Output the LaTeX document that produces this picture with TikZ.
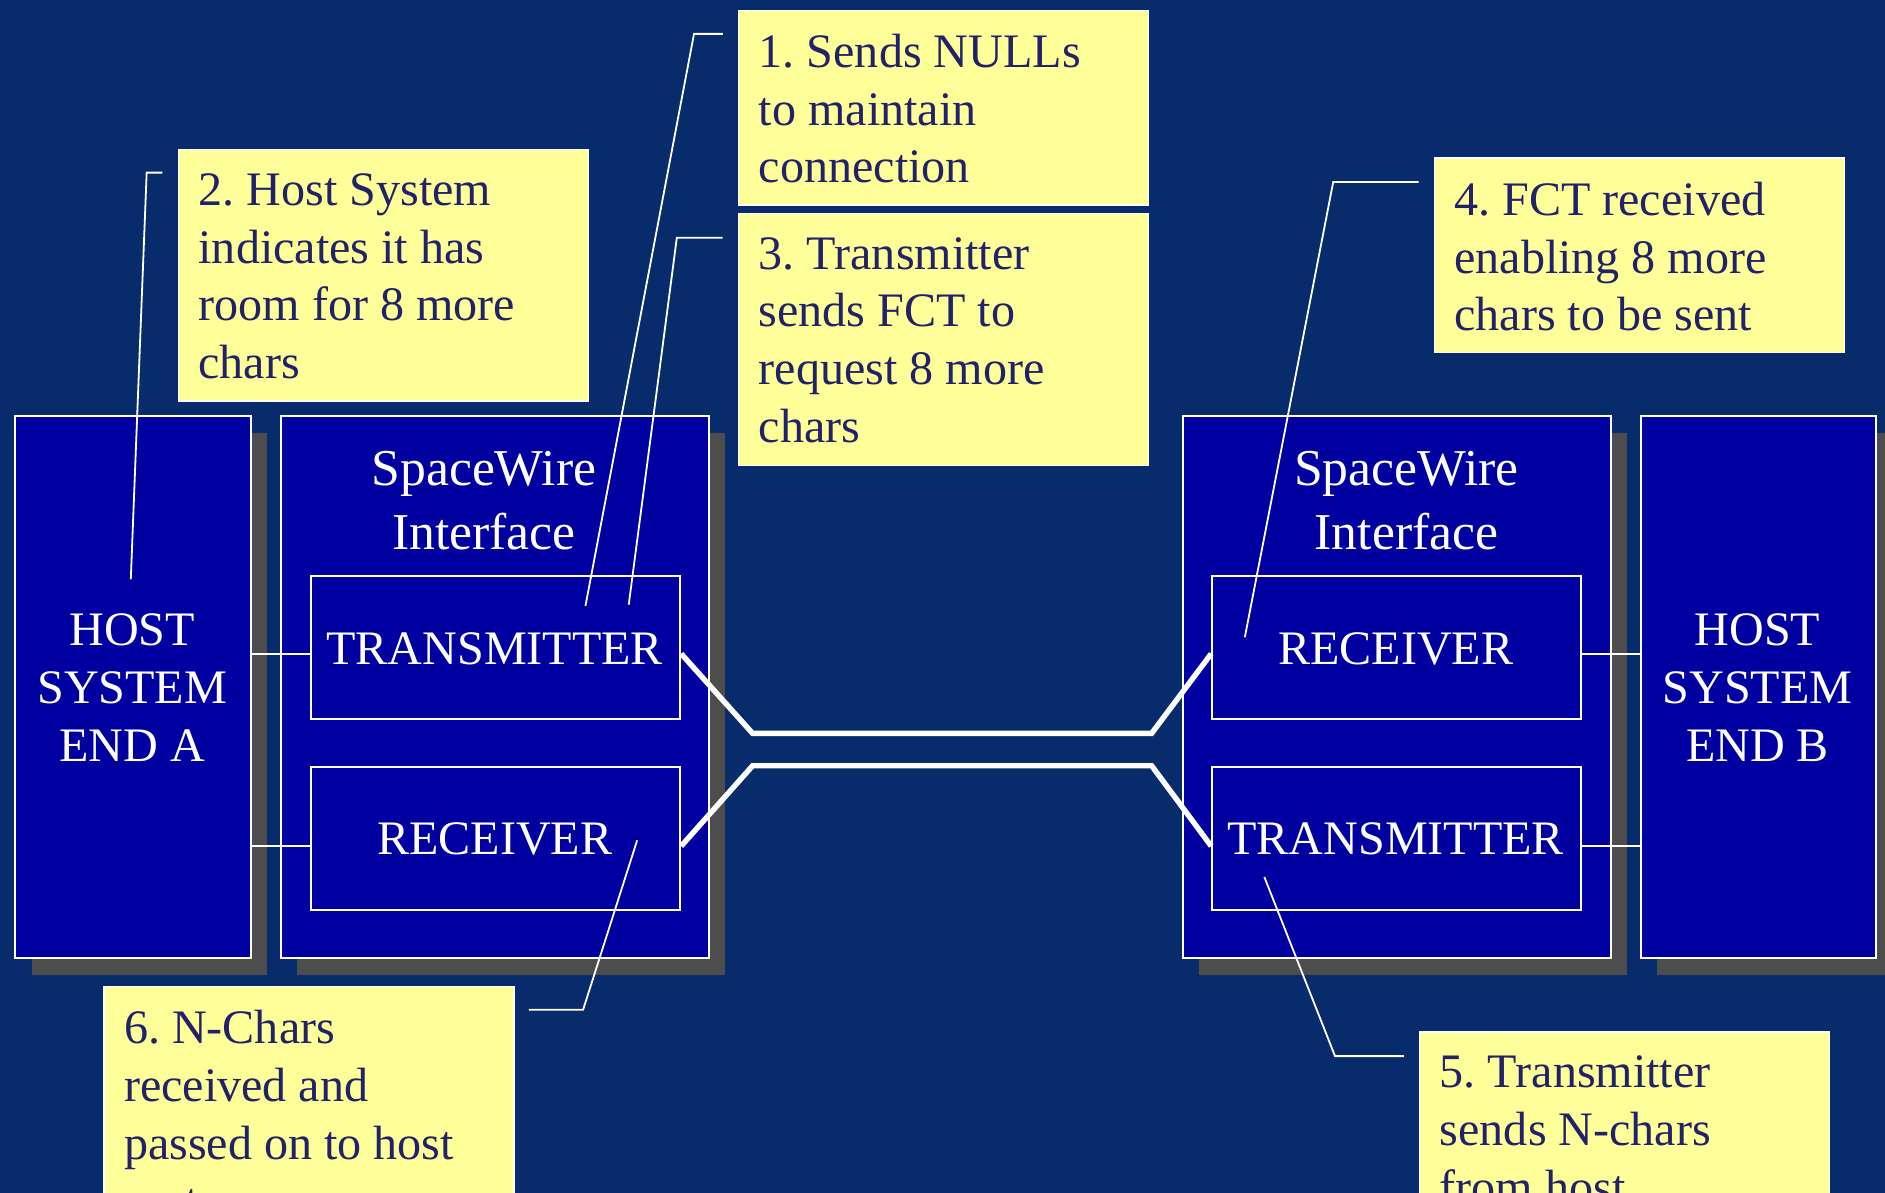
\documentclass[tikz,border=0pt]{standalone}
\usepackage{fontspec}
\setmainfont{Liberation Serif}
\frenchspacing
\usetikzlibrary{shadows}
\definecolor{bgc}{HTML}{082B6B}
\definecolor{boxc}{HTML}{0000A0}
\definecolor{shc}{HTML}{4D4D4D}
\definecolor{yelc}{HTML}{FFFF99}
\definecolor{ytxt}{HTML}{22226A}
\tikzset{
 bluebox/.style={draw=white, line width=1.6pt, fill=boxc, anchor=north west, inner sep=0pt,
   general shadow={fill=shc, shadow xshift=13.5pt, shadow yshift=-14pt}},
 innerbox/.style={draw=white, line width=1.6pt, fill=boxc, anchor=north west, inner sep=0pt,
   minimum width=307pt, minimum height=119pt},
 note/.style={draw=white, line width=1pt, fill=yelc, anchor=north west, inner sep=0pt, minimum width=341pt},
 notetext/.style={anchor=north west, inner sep=0pt, align=left, text=ytxt, font=\fontsize{40}{48}\selectfont\frenchspacing},
 wtext/.style={inner sep=0pt, align=center, text=white, font=\fontsize{40}{48}\selectfont},
 swtext/.style={inner sep=0pt, align=center, text=white, font=\fontsize{43}{53}\selectfont},
 wire/.style={white, line width=4.5pt, line join=miter},
 thinw/.style={white, line width=1.6pt},
 callout/.style={white, line width=1.5pt},
}
\begin{document}
\begin{tikzpicture}[x=1pt,y=-1pt]
\useasboundingbox (0,0) rectangle (1568,992);
\clip (0,0) rectangle (1568,992);
\fill[bgc] (0,0) rectangle (1568,992);

% main blocks
\node[bluebox, minimum width=196pt, minimum height=451pt] (hostA) at (12,345) {};
\node[bluebox, minimum width=356pt, minimum height=451pt] (ifA) at (233,345) {};
\node[bluebox, minimum width=356pt, minimum height=451pt] (ifB) at (983,345) {};
\node[bluebox, minimum width=196pt, minimum height=451pt] (hostB) at (1364,345) {};

\node[innerbox] (txA) at (258,478) {};
\node[innerbox] (rxA) at (258,637) {};
\node[innerbox] (rxB) at (1007.5,478) {};
\node[innerbox] (txB) at (1007.5,637) {};

% labels
\node[wtext, anchor=north] (lhA) at (110,510.5) {HOST\\SYSTEM\\END A};
\node[wtext, anchor=north] (lhB) at (1462,510.5) {HOST\\SYSTEM\\END B};
\node[swtext, anchor=north] (lifA) at (402.5,375.5) {SpaceWire\\Interface};
\node[swtext, anchor=north] (lifB) at (1170,375.5) {SpaceWire\\Interface};
\node[wtext, anchor=base] (ltxA) at (411.5,553) {TRANSMITTER};
\node[wtext, anchor=base] (lrxA) at (411.5,711) {RECEIVER};
\node[wtext, anchor=base] (lrxB) at (1161,553) {RECEIVER};
\node[wtext, anchor=base] (ltxB) at (1161,711) {TRANSMITTER};

% host connectors
\coordinate (cA1) at ([yshift=-5.5pt]txA.west);
\coordinate (cA2) at ([yshift=-6.5pt]rxA.west);
\coordinate (cB1) at ([yshift=-5.5pt]rxB.east);
\coordinate (cB2) at ([yshift=-6.5pt]txB.east);
\draw[thinw] (hostA.east |- cA1) -- (cA1);
\draw[thinw] (hostA.east |- cA2) -- (cA2);
\draw[thinw] (cB1) -- (hostB.west |- cB1);
\draw[thinw] (cB2) -- (hostB.west |- cB2);

% wires
\coordinate (k1) at (626,610);
\coordinate (k2) at (958,610);
\coordinate (k3) at (626,637);
\coordinate (k4) at (958,637);
\draw[wire] ([yshift=-5.5pt]txA.east) -- (k1) -- (k2) -- ([yshift=-5.5pt]rxB.west);
\draw[wire] ([yshift=-6.5pt]rxA.east) -- (k3) -- (k4) -- ([yshift=-6.5pt]txB.west);

% notes
\node[note, minimum height=162pt] (b1) at (614,8) {};
\node[note, minimum height=210pt] (b3) at (614,177) {};
\node[note, minimum height=209pt] (b2) at (148,124) {};
\node[note, minimum height=162pt] (b4) at (1192.5,131) {};
\node[note, minimum height=210pt] (b6) at (86,820) {};
\node[note, minimum height=210pt] (b5) at (1180.5,858) {};

\node[notetext] (t1) at (631,28.2) {1. Sends NULLs\\to maintain\\connection};
\node[notetext] (t3) at (631,197.2) {3. Transmitter\\sends FCT to\\request 8 more\\chars};
\node[notetext] (t2) at (165,144.2) {2. Host System\\indicates it has\\room for 8 more\\chars};
\node[notetext] (t4) at (1209.5,151.2) {4. FCT received\\enabling 8 more\\chars to be sent};
\node[notetext] (t6) at (103,840.2) {6. N-Chars\\received and\\passed on to host\\system};
\node[notetext] (t5) at (1197.5,878.2) {5. Transmitter\\sends N-chars\\from host};

% callouts
\coordinate (e1) at (487,504);
\coordinate (e2) at (108.8,482);
\coordinate (e3) at (523,503);
\coordinate (e4) at (1035.5,530);
\coordinate (e5) at (1051.7,729.5);
\coordinate (e6) at (530,699);
\draw[callout] ([xshift=-12.7pt,yshift=-20.2pt]b1.north west) -- ++(-24,0) -- (e1);
\draw[callout] ([xshift=-13pt,yshift=-19.6pt]b2.north west) -- ++(-13,0) -- (e2);
\draw[callout] ([xshift=-13pt,yshift=-20.8pt]b3.north west) -- ++(-38,0) -- (e3);
\draw[callout] ([xshift=-12.5pt,yshift=-20.4pt]b4.north west) -- ++(-71,0) -- (e4);
\draw[callout] ([xshift=-12.5pt,yshift=-20.5pt]b5.north west) -- ++(-57.5,0) -- (e5);
\draw[callout] ([xshift=12pt,yshift=-20pt]b6.north east) -- ++(45,0) -- (e6);
\end{tikzpicture}
\end{document}
